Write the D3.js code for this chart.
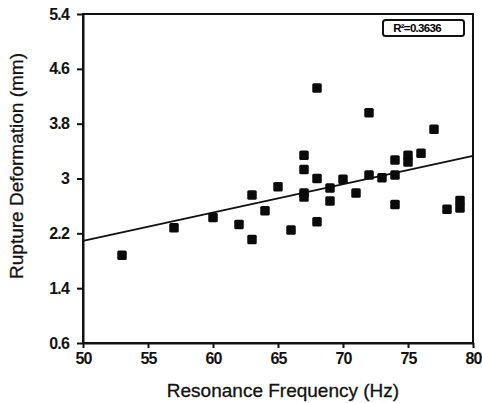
<!DOCTYPE html>
<head>
<meta charset="utf-8">
<script src="https://d3js.org/d3.v7.min.js"></script>
<style>
body { margin: 0; background: #fff; font-family: "Liberation Sans", Arial, sans-serif; }
.tick text { font-size: 16px; font-weight: bold; fill: #111; letter-spacing: -0.8px; }
.axis path, .axis line { stroke: #111; stroke-width: 2px; }
.title { font-size: 19px; fill: #111; stroke: #111; stroke-width: 0.3px; }
</style>
</head>
<body>
<script>
// resonance frequency (Hz) and rupture deformation (mm)
const freq = [53, 57, 60, 62, 63, 63, 64, 65, 66, 67, 67, 67, 67, 68, 68, 68, 69, 69, 70, 71, 72, 72, 73, 74, 74, 74, 75, 75, 76, 77, 78, 79, 79];
const deform = [1.88, 2.28, 2.43, 2.33, 2.76, 2.11, 2.53, 2.88, 2.25, 3.34, 3.13, 2.79, 2.73, 4.32, 3.0, 2.37, 2.86, 2.67, 2.99, 2.79, 3.96, 3.05, 3.01, 3.27, 3.05, 2.62, 3.34, 3.24, 3.37, 3.72, 2.55, 2.68, 2.57];
const fitX = [50, 80];
const fitY = [2.09, 3.33];
const xTicks = [50, 55, 60, 65, 70, 75, 80];
const yTicks = [0.6, 1.4, 2.2, 3, 3.8, 4.6, 5.4];
const r2Label = "R²=0.3636";

const width = 482, height = 403;
const margin = {top: 14, right: 9, bottom: 60, left: 83};

const svg = d3.select('body').append('svg')
  .attr('width', width)
  .attr('height', height);

const x = d3.scaleLinear().domain([50, 80]).range([margin.left, width - margin.right]);
const y = d3.scaleLinear().domain([0.6, 5.4]).range([height - margin.bottom, margin.top]);

// frame
svg.append('rect')
  .attr('x', x(50)).attr('y', y(5.4))
  .attr('width', x(80) - x(50)).attr('height', y(0.6) - y(5.4))
  .attr('fill', 'none').attr('stroke', '#111').attr('stroke-width', 2);

svg.append('g')
  .attr('class', 'axis')
  .attr('transform', 'translate(0,' + y(0.6) + ')')
  .call(d3.axisBottom(x).tickValues(xTicks).tickSize(5).tickSizeOuter(0).tickPadding(3))
  .selectAll('text').attr('dy', '0.8em');

svg.append('g')
  .attr('class', 'axis')
  .attr('transform', 'translate(' + x(50) + ',0)')
  .call(d3.axisLeft(y).tickValues(yTicks).tickSize(6).tickSizeOuter(0).tickPadding(8).tickFormat(d3.format('')));

// trend line
svg.append('line')
  .attr('x1', x(fitX[0])).attr('y1', y(fitY[0]))
  .attr('x2', x(fitX[1])).attr('y2', y(fitY[1]))
  .attr('stroke', '#111').attr('stroke-width', 2);

// points
const s = 9.5;
svg.append('g').selectAll('rect')
  .data(freq.map((f, i) => [f, deform[i]]))
  .enter().append('rect')
    .attr('x', d => x(d[0]) - s / 2)
    .attr('y', d => y(d[1]) - s / 2)
    .attr('width', s).attr('height', s)
    .attr('rx', 1.5)
    .attr('fill', '#0a0a0a');

// R2 box
svg.append('rect')
  .attr('x', 383).attr('y', 20)
  .attr('width', 81).attr('height', 16)
  .attr('rx', 2.5)
  .attr('fill', '#fff').attr('stroke', '#111').attr('stroke-width', 2);

svg.append('text')
  .attr('x', 417).attr('y', 32)
  .attr('text-anchor', 'middle')
  .style('font-size', '11.5px').style('font-weight', 'bold')
  .style('letter-spacing', '-0.7px')
  .text(r2Label);

// axis titles
svg.append('text')
  .attr('class', 'title')
  .attr('x', x(65) + 5).attr('y', 397)
  .attr('text-anchor', 'middle')
  .text('Resonance Frequency (Hz)');

svg.append('text')
  .attr('class', 'title')
  .attr('transform', 'translate(23,166) rotate(-90)')
  .attr('text-anchor', 'middle')
  .text('Rupture Deformation (mm)');
</script>
</body>
